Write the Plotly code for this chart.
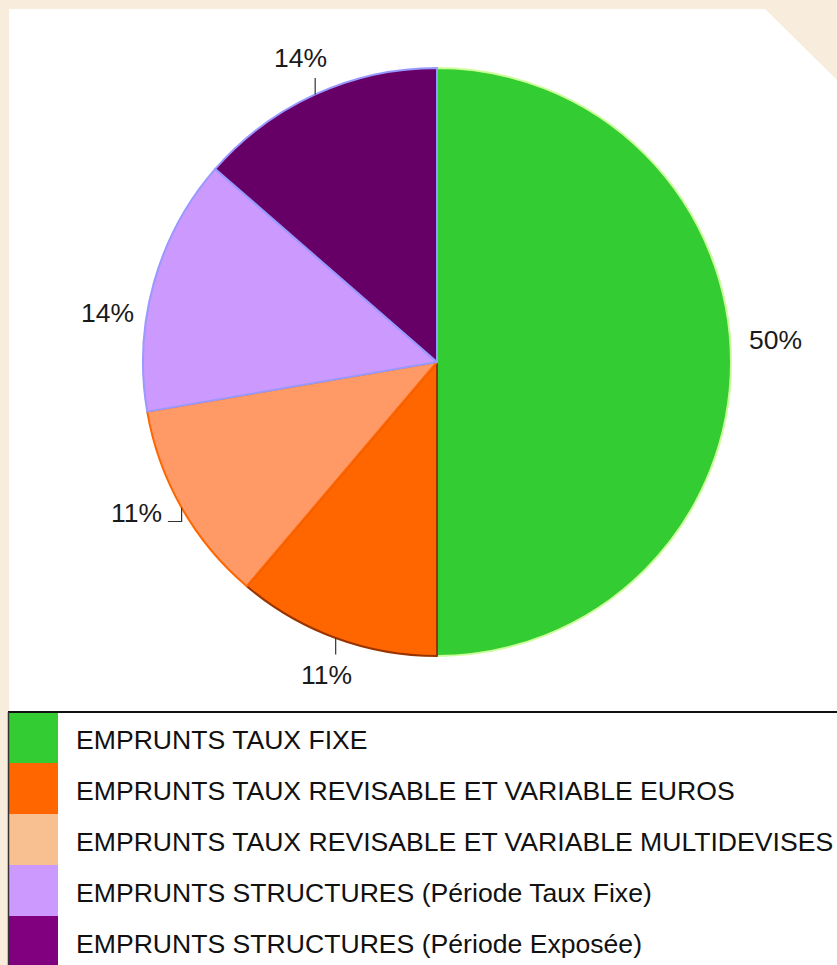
import math
import plotly.graph_objects as go

W, H = 837, 965

categories = [
    "EMPRUNTS TAUX FIXE",
    "EMPRUNTS TAUX REVISABLE ET VARIABLE EUROS",
    "EMPRUNTS TAUX REVISABLE ET VARIABLE MULTIDEVISES",
    "EMPRUNTS STRUCTURES (Période Taux Fixe)",
    "EMPRUNTS STRUCTURES (Période Exposée)",
]
shares = [50.0, 11.2, 11.1, 14.1, 13.6]

# styles
slice_colors = ["#33CC33", "#FF6600", "#FF9966", "#CC99FF", "#660066"]
slice_edges = ["#CCFF99", "#993300", "#FF6600", "#9999FF", "#9999FF"]
legend_colors = ["#33CC33", "#FF6600", "#F8C090", "#CC99FF", "#800080"]
label_nudge = [(4, -22), (5, -1), (-10, -14), (-8, 41), (2, 0)]
leader = [False, True, True, False, True]

BG = "#F8ECDD"
FONT = "Liberation Sans, Arial, sans-serif"
LABEL_SIZE = 26.5


def px(x):
    return x / W


def py(y):
    return 1 - y / H


# pie placement (pixels)
cx, cy, r = 437, 362, 294
label_r = 334

fig = go.Figure()
fig.add_trace(go.Pie(
    labels=categories,
    values=shares,
    sort=False,
    direction="clockwise",
    rotation=0,
    marker=dict(colors=slice_colors, line=dict(color=slice_edges, width=2)),
    textinfo="none",
    domain=dict(x=[px(cx - r), px(cx + r)], y=[py(cy + r), py(cy - r)]),
    showlegend=False,
    hoverinfo="skip",
))

shapes = []
annotations = []

# white panel with a cut corner
pts = [(9, 9), (765, 9), (837, 80), (837, 965), (9, 965)]
path = "M " + " L ".join(f"{px(x)},{py(y)}" for x, y in pts) + " Z"
shapes.append(dict(type="path", xref="paper", yref="paper", path=path,
                   fillcolor="white", line=dict(width=0), layer="below"))

# percentage labels outside the slices
total = sum(shares)
start = 0.0
half_h, half_w = 12, 27
for i, v in enumerate(shares):
    mid = math.radians((start + v / 2) / total * 360)
    start += v
    sx, sy = math.sin(mid), -math.cos(mid)
    lx = cx + label_r * sx + label_nudge[i][0]
    ly = cy + label_r * sy + label_nudge[i][1]
    annotations.append(dict(xref="paper", yref="paper", x=px(lx), y=py(ly),
                            xanchor="center", yanchor="middle", showarrow=False,
                            text=f"{round(v / total * 100)}%",
                            font=dict(family=FONT, size=LABEL_SIZE, color="#1a1a1a")))
    if leader[i]:
        ex, ey = cx + r * sx, cy + r * sy
        if abs(ly - ey) > half_h + 8:
            ty = ly + (half_h + 8) * (1 if ey > ly else -1)
            d = f"M {px(ex)},{py(ey)} L {px(ex)},{py(ty)}"
        else:
            hy = ly + 8
            hx = lx + (half_w + 4) * (1 if ex > lx else -1)
            d = f"M {px(ex)},{py(ey)} L {px(ex)},{py(hy)} L {px(hx)},{py(hy)}"
        shapes.append(dict(type="path", xref="paper", yref="paper", path=d,
                           line=dict(color="#333333", width=1.2), layer="above"))

# legend table
top = 712
row_h = 51
sw_x0, sw_x1 = 9, 58
for i, (name, col) in enumerate(zip(categories, legend_colors)):
    y0 = top + i * row_h
    y1 = y0 + row_h
    shapes.append(dict(type="rect", xref="paper", yref="paper",
                       x0=px(sw_x0), x1=px(sw_x1), y0=py(y1), y1=py(y0),
                       fillcolor=col, line=dict(width=0), layer="above"))
    annotations.append(dict(xref="paper", yref="paper", x=px(74), y=py((y0 + y1) / 2 + 2),
                            xanchor="left", yanchor="middle", showarrow=False,
                            text=name, font=dict(family=FONT, size=26.6, color="#111111")))
shapes.append(dict(type="line", xref="paper", yref="paper",
                   x0=px(8), x1=1, y0=py(712), y1=py(712),
                   line=dict(color="#111111", width=2), layer="above"))
shapes.append(dict(type="line", xref="paper", yref="paper",
                   x0=px(8.5), x1=px(8.5), y0=py(712), y1=0,
                   line=dict(color="#333333", width=1.5), layer="above"))

fig.update_layout(
    width=W, height=H,
    margin=dict(l=0, r=0, t=0, b=0),
    paper_bgcolor=BG,
    plot_bgcolor=BG,
    shapes=shapes,
    annotations=annotations,
    font=dict(family=FONT),
)

fig.write_html("out.html")
